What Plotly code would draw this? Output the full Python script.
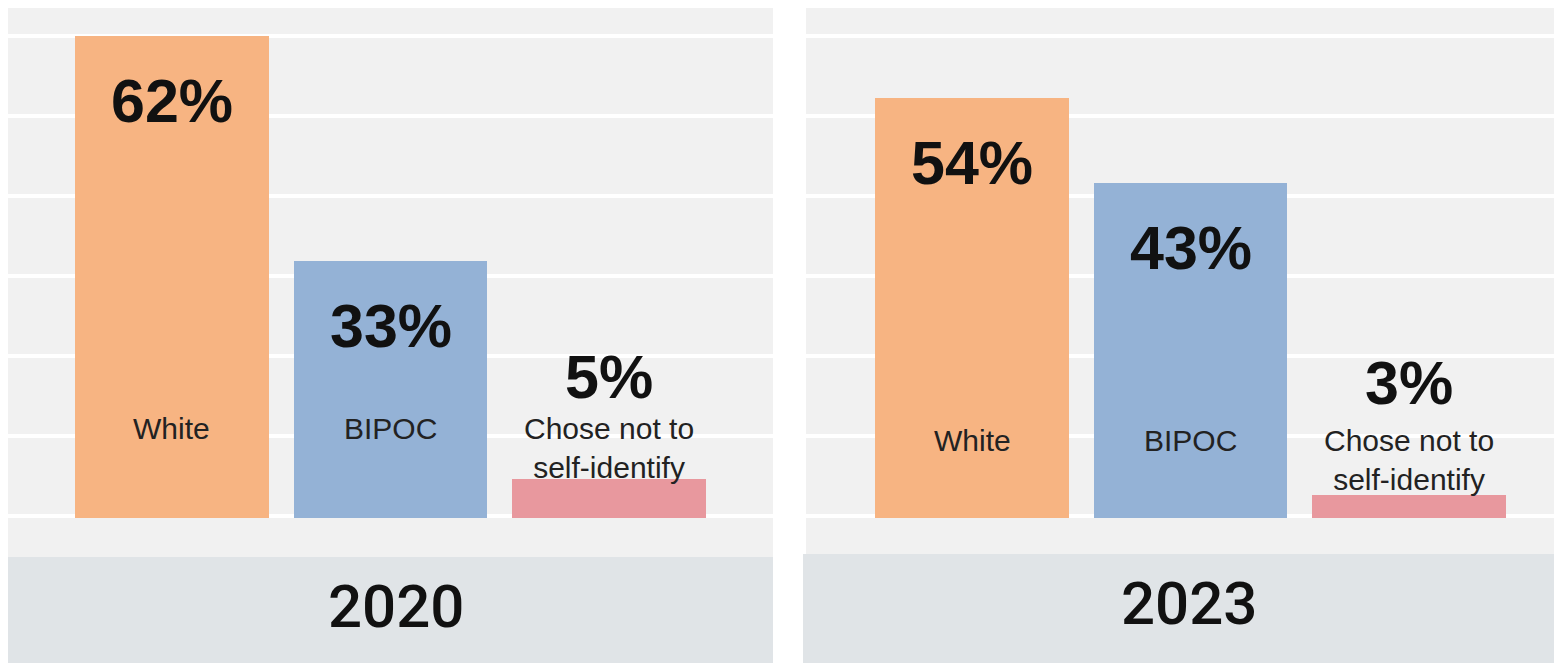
import plotly.graph_objects as go

# ---- data ----
categories = ["White", "BIPOC", "Chose not to self-identify"]
category_labels = ["White", "BIPOC", "Chose not to<br>self-identify"]
years = ["2020", "2023"]
values_2020 = [62, 33, 5]
values_2023 = [54, 43, 3]
bar_colors = ["#F7B482", "#94B2D6", "#E8989E"]

W, H = 1562, 663
OFF_X, OFF_Y = 8, 8  # page body margin
PX_PER_UNIT = 7.78
BASE_PX = 518  # page pixel row of value 0


def fx(px):
    return min(1.0, max(0.0, (px - OFF_X) / W))


def fy(py):
    return min(1.0, max(0.0, (H - (py - OFF_Y)) / H))


fig = go.Figure()

panels = [
    dict(vals=values_2020, year=years[0], xa="x", ya="y", xdom=(8, 773), band_x0=8, band_top=557,
         xrange=[-0.75, 2.75], cat_shift=108, small_shift=141, year_y=606),
    dict(vals=values_2023, year=years[1], xa="x2", ya="y2", xdom=(806, 1562), band_x0=803, band_top=554,
         xrange=[-0.76, 2.70], cat_shift=96, small_shift=135, year_y=603),
]

annotations = []
shapes = []
for i, p in enumerate(panels):
    fig.add_trace(go.Bar(
        x=categories, y=p["vals"], marker=dict(color=bar_colors, line=dict(width=0)),
        width=0.887, xaxis=p["xa"], yaxis=p["ya"], showlegend=False, hoverinfo="skip",
    ))
    sfx = "" if i == 0 else str(i + 1)
    top_px = OFF_Y
    ymin = -(p["band_top"] - BASE_PX) / PX_PER_UNIT
    ymax = (BASE_PX - top_px) / PX_PER_UNIT
    fig.update_layout(**{
        "xaxis" + sfx: dict(domain=[fx(p["xdom"][0]), fx(p["xdom"][1])], range=p["xrange"],
                            showticklabels=False, showgrid=False, zeroline=False, fixedrange=True),
        "yaxis" + sfx: dict(domain=[fy(p["band_top"]), fy(top_px)], range=[ymin, ymax],
                            showticklabels=False, showgrid=True, gridcolor="white", gridwidth=3.5,
                            zeroline=False, tick0=0.32, dtick=80 / PX_PER_UNIT, fixedrange=True),
    })
    # bottom band
    shapes.append(dict(type="rect", xref="paper", yref="paper", x0=fx(p["band_x0"]), x1=fx(p["xdom"][1]),
                       y0=0, y1=fy(p["band_top"]), fillcolor="#E0E4E7", line=dict(width=0), layer="below"))
    annotations.append(dict(text=p["year"], xref="paper", yref="paper",
                            x=fx((p["xdom"][0] + p["xdom"][1]) / 2 + 5), y=fy(p["year_y"]),
                            showarrow=False, xanchor="center", yanchor="middle",
                            font=dict(family="Roboto", size=60, color="#111111", weight=500)))
    for cat, lab, v in zip(categories, category_labels, p["vals"]):
        annotations.append(dict(text=lab, x=cat, y=0, xref=p["xa"], yref=p["ya"], showarrow=False,
                                xanchor="center", yanchor="top", yshift=p["cat_shift"],
                                font=dict(family="Liberation Sans", size=30, color="#222222")))
        if v >= 10:
            annotations.append(dict(text=f"{v}%", x=cat, y=v, xref=p["xa"], yref=p["ya"], showarrow=False,
                                    xanchor="center", yanchor="middle", yshift=-65,
                                    font=dict(family="Liberation Sans", size=61, color="#111111", weight="bold")))
        else:
            annotations.append(dict(text=f"{v}%", x=cat, y=0, xref=p["xa"], yref=p["ya"], showarrow=False,
                                    xanchor="center", yanchor="middle", yshift=p["small_shift"],
                                    font=dict(family="Liberation Sans", size=61, color="#111111", weight="bold")))

fig.update_layout(
    width=W, height=H, margin=dict(l=0, r=0, t=0, b=0),
    paper_bgcolor="white", plot_bgcolor="#F1F1F1",
    annotations=annotations, shapes=shapes, bargap=0,
)

fig.write_html("out.html", config={"displayModeBar": False})
